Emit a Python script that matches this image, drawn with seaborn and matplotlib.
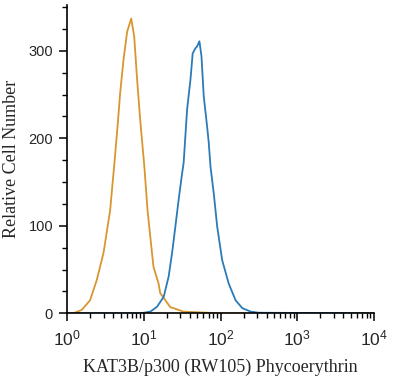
"""
Flow cytometry histogram: KAT3B/p300 (RW105) Phycoerythrin staining vs isotype.
"""

import numpy as np
import pandas as pd
import matplotlib
matplotlib.use('Agg')
import matplotlib.pyplot as plt
from matplotlib.ticker import FixedLocator, LogLocator, NullFormatter
import seaborn as sns

# Isotype control (orange) - fluorescence intensity and cell counts
control_intensity = [1.0, 1.20, 1.56, 2.0, 2.44, 2.99, 3.65, 4.15, 4.55, 4.93, 5.45,
                     6.08, 6.87, 7.52, 8.15, 8.99, 10.2, 11.2, 12.8, 13.4, 15.6,
                     16.4, 19.1, 22.2, 24.3, 32.8, 100.0, 10000.0]
control_counts = [0, 0, 4, 15, 38, 69, 118, 172, 213, 252, 290,
                  322, 337, 316, 270, 221, 167, 118, 69, 53, 34,
                  23, 15, 7, 6, 2, 0, 0]

# KAT3B/p300 stained cells (blue)
stained_intensity = [1.0, 8.99, 12.2, 14.9, 18.2, 21.1, 23.4, 25.8, 28.5, 31.6,
                     33.1, 36.7, 40.6, 43.4, 47.1, 49.5, 53.1, 56.5, 60.5, 67.0,
                     70.3, 74.0, 81.7, 90.6, 105.0, 128.0, 157.0, 192.0, 247.0,
                     314.0, 10000.0]
stained_counts = [0, 0, 2, 7.5, 19, 42, 69, 99, 130, 160,
                  172, 233, 267, 297, 303, 305, 311, 294, 248, 213,
                  195, 168, 137, 99, 61, 34, 15, 6, 2,
                  0.7, 0]

x_ticks = [1, 10, 100, 1000, 10000]
x_tick_labels = [r'$10^{0}$', r'$10^{1}$', r'$10^{2}$', r'$10^{3}$', r'$10^{4}$']
y_ticks = [0, 100, 200, 300]

control_color = '#d8962f'
stained_color = '#2a7bb8'

sns.set_style('ticks')
plt.rcParams['font.family'] = ['Liberation Sans', 'DejaVu Sans']
plt.rcParams['mathtext.fontset'] = 'custom'
plt.rcParams['mathtext.rm'] = 'Liberation Sans'
plt.rcParams['mathtext.it'] = 'Liberation Sans'

df_control = pd.DataFrame({'intensity': control_intensity, 'count': control_counts})
df_stained = pd.DataFrame({'intensity': stained_intensity, 'count': stained_counts})

fig = plt.figure(figsize=(4.0, 3.84), dpi=100)
ax = fig.add_axes([0.1675, 0.184, 0.7675, 0.802])

sns.lineplot(data=df_control, x='intensity', y='count', ax=ax,
             color=control_color, lw=1.3, estimator=None, sort=False)
sns.lineplot(data=df_stained, x='intensity', y='count', ax=ax,
             color=stained_color, lw=1.3, estimator=None, sort=False)

ax.set_xscale('log')
ax.set_xlim(1, 10000)
ax.set_ylim(0, 352)

ax.xaxis.set_major_locator(FixedLocator(x_ticks))
ax.set_xticklabels(x_tick_labels, fontsize=12.5)
ax.xaxis.set_minor_locator(LogLocator(base=10, subs=np.arange(2, 10)))
ax.xaxis.set_minor_formatter(NullFormatter())

ax.set_yticks(y_ticks)
ax.set_yticklabels([str(v) for v in y_ticks], fontsize=10.5)
ax.yaxis.set_minor_locator(FixedLocator(np.arange(25, 351, 25)))

ax.tick_params(axis='both', which='major', length=6, width=1.1, color='black',
               direction='out')
ax.tick_params(axis='both', which='minor', length=3.5, width=1.0, color='black',
               direction='out')
ax.tick_params(axis='x', which='major', pad=5)
ax.tick_params(axis='y', which='major', pad=4)

for side in ['left', 'bottom']:
    ax.spines[side].set_linewidth(1.2)
    ax.spines[side].set_color('black')
sns.despine(ax=ax)

ax.set_xlabel('KAT3B/p300 (RW105) Phycoerythrin', fontsize=13,
              family=['Liberation Serif', 'DejaVu Serif'], labelpad=7)
ax.set_ylabel('Relative Cell Number', fontsize=13,
              family=['Liberation Serif', 'DejaVu Serif'], labelpad=6)

fig.savefig('out.png', dpi=100)
